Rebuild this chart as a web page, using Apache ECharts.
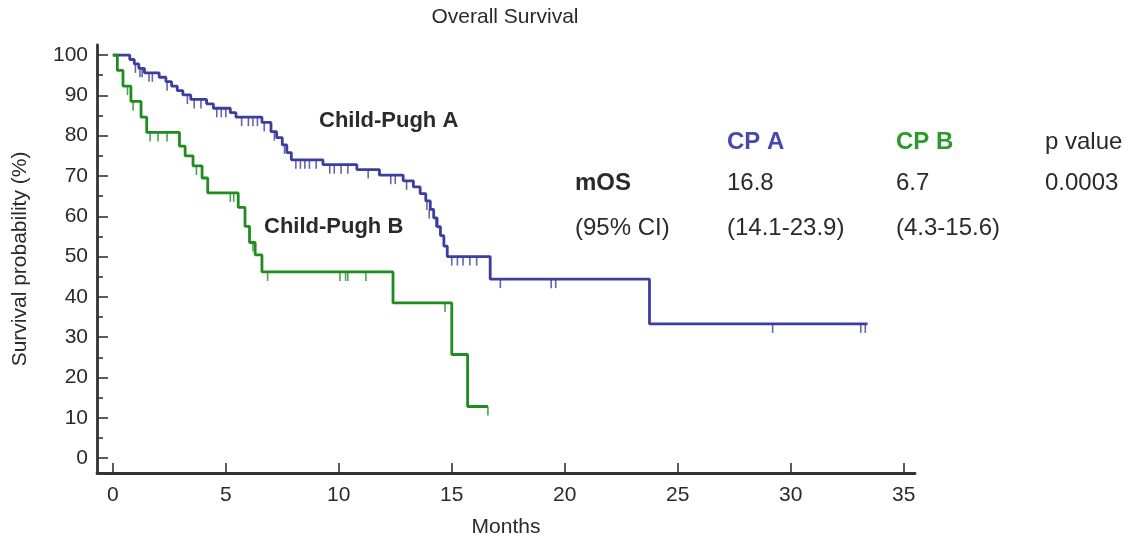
<!DOCTYPE html>
<html>
<head>
<meta charset="utf-8">
<script src="https://cdn.jsdelivr.net/npm/echarts@6/dist/echarts.min.js"></script>
<style>
html,body{margin:0;padding:0;background:#fff;}
#main{width:1130px;height:539px;}
</style>
</head>
<body>
<div id="main"></div>
<script>
// ---- Data ----
const title = "Overall Survival";
const xAxisName = "Months";
const yAxisName = "Survival probability (%)";
const xTicks = [0, 5, 10, 15, 20, 25, 30, 35];
const yTicks = [0, 10, 20, 30, 40, 50, 60, 70, 80, 90, 100];
const yMinorTicks = [5, 15, 25, 35, 45, 55, 65, 75, 85, 95];

// Child-Pugh A step curve (time in months, survival %)
const cpaTimes = [0, 0.75, 0.95, 1.15, 1.4, 2.05, 2.35, 2.6, 2.85, 3.1, 3.45, 4.15, 4.45, 5.2, 5.45, 6.6, 7.0, 7.25, 7.5, 7.7, 7.9, 9.3, 10.8, 11.8, 12.85, 13.3, 13.6, 13.85, 14.05, 14.2, 14.35, 14.5, 14.65, 14.8, 16.7, 23.75, 33.4];
const cpaSurv  = [100, 98.9, 97.8, 96.7, 95.6, 94.5, 93.4, 92.3, 91.2, 90.1, 89.0, 87.9, 86.8, 85.7, 84.6, 83.3, 81.0, 79.5, 77.7, 75.8, 74.0, 72.8, 71.6, 70.2, 68.8, 67.3, 65.6, 63.8, 61.7, 59.6, 57.4, 55.2, 52.6, 50.0, 44.4, 33.3, 33.3];
const cpaCensorTimes = [1.0, 1.2, 1.3, 1.6, 1.75, 2.4, 3.3, 3.6, 3.9, 4.6, 4.8, 5.0, 5.7, 6.0, 6.2, 6.4, 6.7, 7.15, 7.6, 8.1, 8.3, 8.5, 8.7, 9.0, 9.6, 9.8, 10.1, 10.4, 11.3, 12.3, 12.5, 13.0, 13.9, 14.0, 14.3, 15.0, 15.25, 15.5, 15.8, 16.1, 17.15, 19.4, 19.6, 29.2, 33.1, 33.3];
const cpaCensorSurv  = [97.8, 96.7, 96.7, 95.6, 95.6, 93.4, 90.1, 89.0, 89.0, 86.8, 86.8, 86.8, 84.6, 84.6, 84.6, 84.6, 83.3, 81.0, 77.7, 74.0, 74.0, 74.0, 74.0, 74.0, 72.8, 72.8, 72.8, 72.8, 71.6, 70.2, 70.2, 68.8, 63.8, 61.7, 59.6, 50.0, 50.0, 50.0, 50.0, 50.0, 44.4, 44.4, 44.4, 33.3, 33.3, 33.3];

// Child-Pugh B step curve
const cpbTimes = [0, 0.2, 0.45, 0.8, 1.25, 1.5, 2.95, 3.2, 3.55, 3.95, 4.2, 5.55, 5.85, 6.05, 6.3, 6.6, 12.4, 15.0, 15.7, 16.6];
const cpbSurv  = [100, 96.2, 92.3, 88.5, 84.6, 80.8, 77.4, 75.0, 72.5, 69.5, 65.8, 62.2, 57.5, 53.5, 50.4, 46.2, 38.5, 25.7, 12.8, 12.8];
const cpbCensorTimes = [0.65, 0.9, 1.65, 2.0, 2.4, 3.7, 5.2, 5.35, 6.2, 6.85, 10.05, 10.3, 10.4, 11.2, 14.7, 16.6];
const cpbCensorSurv  = [92.3, 88.5, 80.8, 80.8, 80.8, 72.5, 65.8, 65.8, 53.5, 46.2, 46.2, 46.2, 46.2, 46.2, 38.5, 12.8];

const curveLabels = ["Child-Pugh A", "Child-Pugh B"];
const tableHeaders = ["CP A", "CP B", "p value"];
const tableRowLabels = ["mOS", "(95% CI)"];
const tableMOS = ["16.8", "6.7", "0.0003"];
const tableCI = ["(14.1-23.9)", "(4.3-15.6)"];

// ---- Styles ----
const blue = "#3d3d9e";
const green = "#1f8c1f";
const blueText = "#4747ad";
const greenText = "#2a9a2a";
const axisColor = "#333333";
const textColor = "#2a2a2a";
const font = "'Liberation Sans', Arial, sans-serif";

const zip = (a, b) => a.map((v, i) => [v, b[i]]);

const chart = echarts.init(document.getElementById('main'));

const censorStyle = (color) => ({
  type: 'scatter',
  symbol: 'rect',
  symbolSize: [1.6, 9],
  symbolOffset: [0, 4.5],
  itemStyle: { color: color },
  silent: true,
  z: 3
});

const txt = (x, y, text, size, bold, color) => ({
  type: 'text', x: x, y: y,
  style: { text: text, font: (bold ? 'bold ' : '') + size + 'px ' + font, fill: color || textColor, align: 'left', verticalAlign: 'middle' }
});

const cols = [727, 896, 1045];

const option = {
  backgroundColor: '#fff',
  animation: false,
  grid: { left: 97, right: 215, top: 45, bottom: 66, containLabel: false, outerBoundsMode: 'none' },
  xAxis: {
    type: 'value',
    min: -0.7, max: 35.5,
    name: xAxisName,
    nameLocation: 'middle',
    nameGap: 44,
    nameTextStyle: { fontFamily: font, fontSize: 21, color: textColor },
    axisLine: { show: true, onZero: false, lineStyle: { color: axisColor, width: 2.8 } },
    axisTick: { show: true, inside: true, length: 10, customValues: xTicks, lineStyle: { color: axisColor, width: 1.6 } },
    axisLabel: { customValues: xTicks, fontFamily: font, fontSize: 21, color: textColor, margin: 12 },
    splitLine: { show: false }
  },
  yAxis: [{
    type: 'value',
    min: -3.7, max: 102.5,
    name: yAxisName,
    nameLocation: 'middle',
    nameGap: 66,
    nameRotate: 90,
    nameTextStyle: { fontFamily: font, fontSize: 21, color: textColor },
    axisLine: { show: true, onZero: false, lineStyle: { color: axisColor, width: 2.8 } },
    axisTick: { show: true, inside: true, length: 11, customValues: yTicks, lineStyle: { color: axisColor, width: 1.6 } },
    axisLabel: { customValues: yTicks, fontFamily: font, fontSize: 21, color: textColor, margin: 9 },
    splitLine: { show: false }
  }, {
    type: 'value',
    position: 'left',
    offset: 0,
    min: -3.7, max: 102.5,
    axisLine: { show: false, onZero: false },
    axisTick: { show: true, inside: true, length: 6, customValues: yMinorTicks, lineStyle: { color: axisColor, width: 1.6 } },
    axisLabel: { show: false },
    splitLine: { show: false }
  }],
  series: [
    {
      type: 'line', step: 'end', showSymbol: false,
      data: zip(cpaTimes, cpaSurv),
      lineStyle: { color: blue, width: 2.8 }, itemStyle: { color: blue }, z: 4
    },
    Object.assign(censorStyle(blue), { data: zip(cpaCensorTimes, cpaCensorSurv) }),
    {
      type: 'line', step: 'end', showSymbol: false,
      data: zip(cpbTimes, cpbSurv),
      lineStyle: { color: green, width: 2.8 }, itemStyle: { color: green }, z: 4
    },
    Object.assign(censorStyle(green), { data: zip(cpbCensorTimes, cpbCensorSurv) })
  ],
  graphic: [
    { type: 'text', x: 505, y: 17, style: { text: title, font: '21px ' + font, fill: textColor, align: 'center', verticalAlign: 'middle' } },
    txt(319, 121, curveLabels[0], 22, true),
    txt(264, 227, curveLabels[1], 22, true),
    txt(cols[0], 142, tableHeaders[0], 24, true, blueText),
    txt(cols[1], 142, tableHeaders[1], 24, true, greenText),
    txt(cols[2], 142, tableHeaders[2], 24, false),
    txt(575, 183, tableRowLabels[0], 24, true),
    txt(cols[0], 183, tableMOS[0], 24, false),
    txt(cols[1], 183, tableMOS[1], 24, false),
    txt(cols[2], 183, tableMOS[2], 24, false),
    txt(575, 228, tableRowLabels[1], 24, false),
    txt(cols[0], 228, tableCI[0], 24, false),
    txt(cols[1], 228, tableCI[1], 24, false)
  ]
};
chart.setOption(option);
</script>
</body>
</html>
